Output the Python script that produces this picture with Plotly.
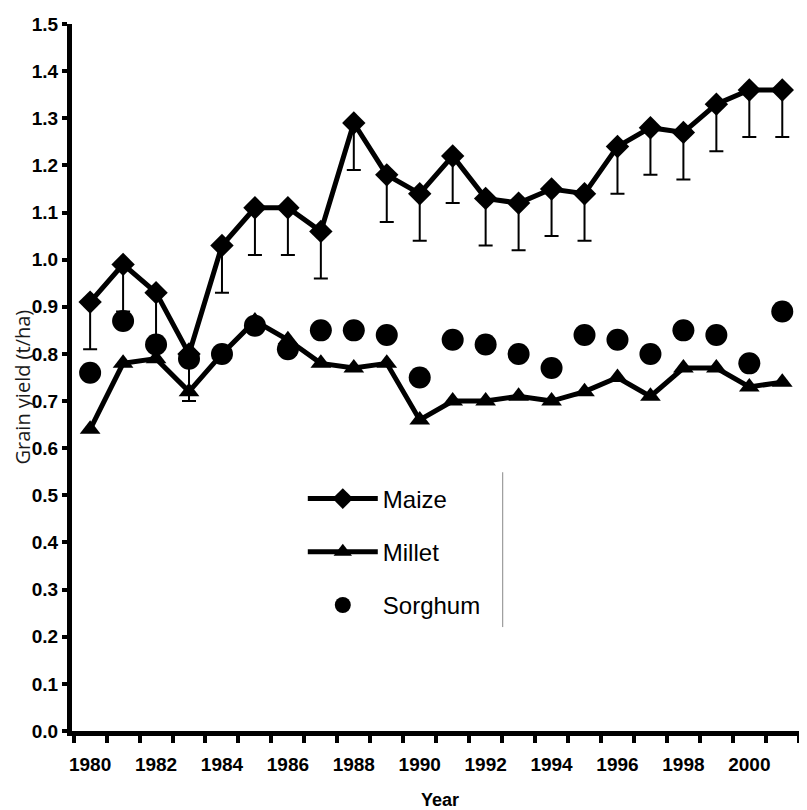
import plotly.graph_objects as go

years = list(range(1980, 2002))
maize = [0.91, 0.99, 0.93, 0.80, 1.03, 1.11, 1.11, 1.06, 1.29, 1.18, 1.14,
         1.22, 1.13, 1.12, 1.15, 1.14, 1.24, 1.28, 1.27, 1.33, 1.36, 1.36]
maize_err = [0.10] * 22
millet = [0.64, 0.78, 0.79, 0.72, 0.80, 0.87, 0.83, 0.78, 0.77, 0.78, 0.66,
          0.70, 0.70, 0.71, 0.70, 0.72, 0.75, 0.71, 0.77, 0.77, 0.73, 0.74]
sorghum = [0.76, 0.87, 0.82, 0.79, 0.80, 0.86, 0.81, 0.85, 0.85, 0.84, 0.75,
           0.83, 0.82, 0.80, 0.77, 0.84, 0.83, 0.80, 0.85, 0.84, 0.78, 0.89]
x_tick_years = list(range(1980, 2001, 2))
y_ticks = [round(i * 0.1, 1) for i in range(16)]

TICKFONT = "Liberation Sans Narrow, Arial Narrow, Liberation Sans, Arial, sans-serif"

fig = go.Figure()
fig.add_trace(go.Scatter(
    x=years, y=maize, name="Maize", mode="lines+markers", legendgroup="a",
    line=dict(color="black", width=5),
    marker=dict(symbol="diamond", size=18, color="black"),
    error_y=dict(type="data", symmetric=False, array=[0] * len(maize_err),
                 arrayminus=maize_err, color="black", thickness=2, width=7),
))
fig.add_trace(go.Scatter(
    x=years, y=millet, name="Millet", mode="lines+markers", legendgroup="b",
    line=dict(color="black", width=5),
    marker=dict(symbol="triangle-up", size=18, color="black"),
))
fig.add_trace(go.Scatter(
    x=years, y=sorghum, name="Sorghum", mode="markers", legendgroup="c",
    marker=dict(symbol="circle", size=22, color="black"),
))

# thin vertical artefact line seen in the scanned figure
fig.add_shape(type="line", xref="paper", yref="paper",
              x0=0.586, x1=0.586, y0=0.147, y1=0.366,
              line=dict(color="#888888", width=1))

# axis titles
fig.add_annotation(text="Grain yield (t/ha)", xref="paper", yref="paper",
                   x=0, y=0.5, xanchor="center", yanchor="middle",
                   xshift=-50, yshift=-10, textangle=-90, showarrow=False,
                   font=dict(family="Open Sans, sans-serif", size=20, color="#1a1a1a"))
fig.add_annotation(text="Year", xref="paper", yref="paper",
                   x=0.5, y=0, xanchor="center", yanchor="middle",
                   yshift=-69, showarrow=False,
                   font=dict(family=TICKFONT, size=18, color="black", weight="bold"))

fig.update_layout(
    width=807, height=810,
    margin=dict(l=64, r=8, t=16, b=87, autoexpand=False),
    plot_bgcolor="white", paper_bgcolor="white",
    showlegend=True,
    legend=dict(x=0.314, y=0.36, xanchor="left", yanchor="top",
                bgcolor="rgba(0,0,0,0)", tracegroupgap=19, itemwidth=70,
                font=dict(family=TICKFONT, size=24, color="black")),
    xaxis=dict(
        range=[1979.45, 2001.75], tickvals=x_tick_years, automargin=False,
        ticktext=[str(v) for v in x_tick_years], ticks="", ticklabelstandoff=12,
        showgrid=False, zeroline=False, showline=True, linecolor="black", linewidth=5,
        tickfont=dict(family=TICKFONT, size=19, color="black", weight="bold"),
        minor=dict(tick0=1979.5, dtick=1, ticks="outside", ticklen=7,
                   tickwidth=4, tickcolor="black", showgrid=False),
    ),
    yaxis=dict(
        range=[0, 1.5], tickvals=y_ticks, tickformat=".1f", automargin=False,
        ticks="outside", ticklen=5, tickwidth=4, tickcolor="black",
        showgrid=False, zeroline=False, showline=True, linecolor="black", linewidth=5,
        tickfont=dict(family=TICKFONT, size=19, color="black", weight="bold"),
    ),
)

fig.write_html("out.html")
